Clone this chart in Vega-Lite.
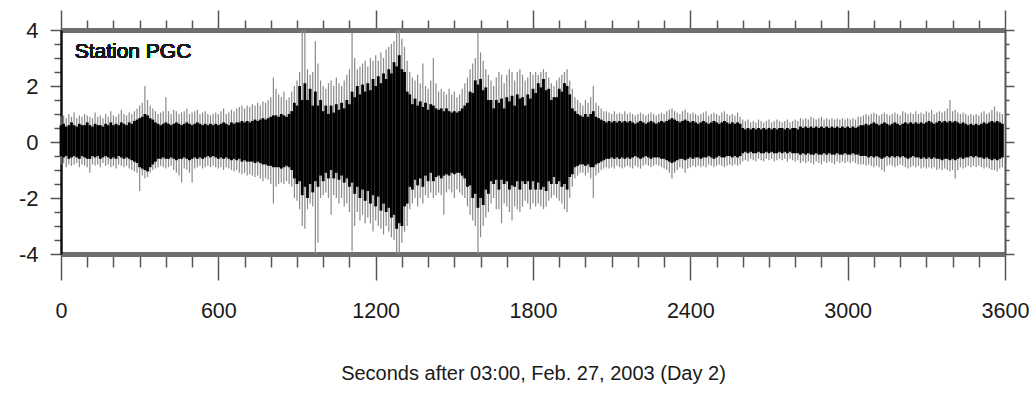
{
"$schema":"https://vega.github.io/schema/vega-lite/v6.json",
"width":944,"height":224,
"autosize":{"type":"none"},
"padding":{"left":61,"top":30,"right":24,"bottom":143},
"background":"white",
"config":{"view":{"stroke":null},"font":"Liberation Sans"},
"data":{"values":[
{"t":0,"h":0.6,"l":-0.5,"p":0.9,"q":-0.8},{"t":10,"h":0.65,"l":-0.55,"p":0.95,"q":-0.75},{"t":20,"h":0.55,"l":-0.5,"p":0.85,"q":-0.9},{"t":30,"h":0.6,"l":-0.6,"p":1.0,"q":-0.8},{"t":40,"h":0.7,"l":-0.55,"p":0.9,"q":-0.85},{"t":50,"h":0.6,"l":-0.5,"p":1.05,"q":-0.8},{"t":60,"h":0.55,"l":-0.55,"p":0.85,"q":-0.75},{"t":70,"h":0.65,"l":-0.6,"p":0.95,"q":-0.9},{"t":80,"h":0.6,"l":-0.5,"p":0.9,"q":-0.8},{"t":90,"h":0.6,"l":-0.55,"p":1.0,"q":-0.85},
{"t":100,"h":0.7,"l":-0.6,"p":0.95,"q":-0.9},{"t":110,"h":0.6,"l":-0.6,"p":0.9,"q":-1.1},{"t":120,"h":0.55,"l":-0.5,"p":0.85,"q":-0.8},{"t":130,"h":0.65,"l":-0.55,"p":1.05,"q":-0.85},{"t":140,"h":0.6,"l":-0.5,"p":0.9,"q":-0.8},{"t":150,"h":0.6,"l":-0.6,"p":0.95,"q":-0.9},{"t":160,"h":0.55,"l":-0.55,"p":0.85,"q":-0.75},{"t":170,"h":0.65,"l":-0.5,"p":1.0,"q":-0.85},{"t":180,"h":0.6,"l":-0.55,"p":0.9,"q":-0.8},{"t":190,"h":0.7,"l":-0.6,"p":1.1,"q":-0.9},
{"t":200,"h":0.6,"l":-0.55,"p":0.95,"q":-0.85},{"t":210,"h":0.65,"l":-0.6,"p":0.9,"q":-0.95},{"t":220,"h":0.6,"l":-0.5,"p":1.0,"q":-0.8},{"t":230,"h":0.7,"l":-0.55,"p":1.15,"q":-0.85},{"t":240,"h":0.65,"l":-0.6,"p":1.0,"q":-0.9},{"t":250,"h":0.6,"l":-0.55,"p":0.95,"q":-0.85},{"t":260,"h":0.7,"l":-0.6,"p":1.05,"q":-0.95},{"t":270,"h":0.65,"l":-0.65,"p":1.0,"q":-1.0},{"t":280,"h":0.75,"l":-0.7,"p":1.1,"q":-1.05},{"t":290,"h":0.8,"l":-0.75,"p":1.2,"q":-1.1},
{"t":300,"h":0.85,"l":-0.9,"p":1.3,"q":-1.75},{"t":310,"h":0.9,"l":-0.95,"p":1.4,"q":-1.2},{"t":320,"h":1.0,"l":-1.0,"p":2.0,"q":-1.3},{"t":330,"h":0.95,"l":-1.05,"p":1.5,"q":-1.25},{"t":340,"h":0.85,"l":-0.9,"p":1.3,"q":-1.1},{"t":350,"h":0.8,"l":-0.8,"p":1.2,"q":-1.0},{"t":360,"h":0.7,"l":-0.7,"p":1.1,"q":-0.95},{"t":370,"h":0.65,"l":-0.6,"p":1.0,"q":-0.9},{"t":380,"h":0.6,"l":-0.6,"p":1.05,"q":-0.85},{"t":390,"h":0.65,"l":-0.55,"p":1.1,"q":-0.9},
{"t":400,"h":0.7,"l":-0.6,"p":1.6,"q":-0.95},{"t":410,"h":0.65,"l":-0.6,"p":1.1,"q":-0.9},{"t":420,"h":0.6,"l":-0.55,"p":1.0,"q":-0.85},{"t":430,"h":0.65,"l":-0.6,"p":1.15,"q":-1.0},{"t":440,"h":0.7,"l":-0.65,"p":1.1,"q":-1.1},{"t":450,"h":0.65,"l":-0.6,"p":1.0,"q":-1.2},{"t":460,"h":0.6,"l":-0.6,"p":1.05,"q":-1.45},{"t":470,"h":0.65,"l":-0.55,"p":1.1,"q":-0.95},{"t":480,"h":0.7,"l":-0.6,"p":1.2,"q":-1.0},{"t":490,"h":0.65,"l":-0.65,"p":1.0,"q":-1.1},
{"t":500,"h":0.6,"l":-0.6,"p":1.05,"q":-1.45},{"t":510,"h":0.65,"l":-0.55,"p":1.1,"q":-0.95},{"t":520,"h":0.7,"l":-0.6,"p":1.15,"q":-0.9},{"t":530,"h":0.65,"l":-0.55,"p":1.0,"q":-0.85},{"t":540,"h":0.6,"l":-0.6,"p":1.05,"q":-0.95},{"t":550,"h":0.65,"l":-0.55,"p":1.1,"q":-0.9},{"t":560,"h":0.6,"l":-0.5,"p":1.0,"q":-0.85},{"t":570,"h":0.65,"l":-0.55,"p":0.95,"q":-0.9},{"t":580,"h":0.6,"l":-0.5,"p":1.0,"q":-0.85},{"t":590,"h":0.65,"l":-0.55,"p":1.05,"q":-0.9},
{"t":600,"h":0.6,"l":-0.6,"p":1.0,"q":-0.95},{"t":610,"h":0.65,"l":-0.55,"p":1.1,"q":-0.9},{"t":620,"h":0.7,"l":-0.6,"p":1.2,"q":-1.0},{"t":630,"h":0.65,"l":-0.55,"p":1.0,"q":-0.9},{"t":640,"h":0.6,"l":-0.6,"p":1.05,"q":-0.95},{"t":650,"h":0.7,"l":-0.65,"p":1.15,"q":-1.0},{"t":660,"h":0.65,"l":-0.6,"p":1.1,"q":-1.05},{"t":670,"h":0.7,"l":-0.65,"p":1.2,"q":-1.0},{"t":680,"h":0.7,"l":-0.6,"p":1.25,"q":-1.1},{"t":690,"h":0.75,"l":-0.7,"p":1.3,"q":-1.15},
{"t":700,"h":0.7,"l":-0.65,"p":1.2,"q":-1.1},{"t":710,"h":0.75,"l":-0.7,"p":1.3,"q":-1.2},{"t":720,"h":0.7,"l":-0.7,"p":1.25,"q":-1.15},{"t":730,"h":0.75,"l":-0.7,"p":1.35,"q":-1.2},{"t":740,"h":0.8,"l":-0.75,"p":1.3,"q":-1.25},{"t":750,"h":0.75,"l":-0.7,"p":1.4,"q":-1.2},{"t":760,"h":0.8,"l":-0.75,"p":1.3,"q":-1.3},{"t":770,"h":0.85,"l":-0.8,"p":1.45,"q":-1.4},{"t":780,"h":0.8,"l":-0.8,"p":1.4,"q":-1.3},{"t":790,"h":0.85,"l":-0.85,"p":1.5,"q":-1.35},
{"t":800,"h":0.9,"l":-0.85,"p":1.6,"q":-1.5},{"t":810,"h":0.95,"l":-0.9,"p":2.3,"q":-2.2},{"t":820,"h":0.95,"l":-0.9,"p":1.9,"q":-1.6},{"t":830,"h":0.9,"l":-0.9,"p":1.7,"q":-1.5},{"t":840,"h":1.0,"l":-0.95,"p":1.6,"q":-1.45},{"t":850,"h":0.95,"l":-0.9,"p":1.8,"q":-1.5},{"t":860,"h":0.9,"l":-0.85,"p":1.5,"q":-1.4},{"t":870,"h":1.0,"l":-0.9,"p":1.6,"q":-1.5},{"t":880,"h":1.1,"l":-1.0,"p":1.8,"q":-1.6},{"t":890,"h":1.4,"l":-1.3,"p":2.0,"q":-2.0},
{"t":900,"h":1.3,"l":-1.5,"p":2.2,"q":-2.1},{"t":910,"h":2.0,"l":-1.4,"p":2.5,"q":-2.4},{"t":920,"h":1.5,"l":-1.9,"p":4.0,"q":-3.0},{"t":930,"h":2.1,"l":-1.6,"p":4.0,"q":-3.1},{"t":940,"h":1.5,"l":-2.0,"p":2.6,"q":-2.4},{"t":950,"h":1.9,"l":-1.5,"p":2.4,"q":-2.2},{"t":960,"h":1.3,"l":-1.8,"p":2.5,"q":-2.3},{"t":970,"h":1.8,"l":-1.4,"p":3.6,"q":-4.0},{"t":980,"h":1.3,"l":-1.6,"p":2.8,"q":-3.6},{"t":990,"h":1.5,"l":-1.2,"p":2.2,"q":-2.0},
{"t":1000,"h":1.1,"l":-1.4,"p":2.0,"q":-1.9},{"t":1010,"h":1.3,"l":-1.1,"p":1.9,"q":-1.8},{"t":1020,"h":1.0,"l":-1.3,"p":2.1,"q":-2.0},{"t":1030,"h":1.3,"l":-1.0,"p":2.2,"q":-2.6},{"t":1040,"h":1.05,"l":-1.3,"p":2.0,"q":-1.9},{"t":1050,"h":1.35,"l":-1.1,"p":2.3,"q":-2.0},{"t":1060,"h":1.15,"l":-1.35,"p":2.1,"q":-2.2},{"t":1070,"h":1.4,"l":-1.2,"p":2.0,"q":-2.0},{"t":1080,"h":1.2,"l":-1.45,"p":2.2,"q":-2.3},{"t":1090,"h":1.5,"l":-1.3,"p":2.4,"q":-2.2},
{"t":1100,"h":1.35,"l":-1.6,"p":2.6,"q":-2.5},{"t":1110,"h":1.8,"l":-1.45,"p":3.9,"q":-3.9},{"t":1120,"h":1.6,"l":-1.85,"p":3.0,"q":-3.0},{"t":1130,"h":2.0,"l":-1.6,"p":2.6,"q":-2.5},{"t":1140,"h":1.7,"l":-2.0,"p":2.7,"q":-2.8},{"t":1150,"h":2.05,"l":-1.7,"p":2.8,"q":-2.6},{"t":1160,"h":1.8,"l":-2.1,"p":2.9,"q":-2.9},{"t":1170,"h":2.1,"l":-1.75,"p":2.7,"q":-2.7},{"t":1180,"h":1.85,"l":-2.2,"p":3.0,"q":-2.9},{"t":1190,"h":2.25,"l":-1.9,"p":2.9,"q":-3.2},
{"t":1200,"h":2.0,"l":-2.3,"p":3.1,"q":-2.8},{"t":1210,"h":2.35,"l":-1.95,"p":2.9,"q":-3.0},{"t":1220,"h":2.1,"l":-2.45,"p":3.2,"q":-3.1},{"t":1230,"h":2.45,"l":-2.2,"p":3.0,"q":-3.3},{"t":1240,"h":2.25,"l":-2.5,"p":3.3,"q":-3.0},{"t":1250,"h":2.6,"l":-2.35,"p":3.4,"q":-3.2},{"t":1260,"h":2.45,"l":-2.7,"p":3.5,"q":-3.4},{"t":1270,"h":2.85,"l":-2.6,"p":3.6,"q":-3.5},{"t":1280,"h":2.7,"l":-3.1,"p":4.0,"q":-4.0},{"t":1290,"h":3.1,"l":-2.9,"p":4.0,"q":-4.0},
{"t":1300,"h":2.6,"l":-3.0,"p":3.7,"q":-3.6},{"t":1310,"h":2.5,"l":-2.3,"p":3.4,"q":-3.2},{"t":1320,"h":1.8,"l":-2.2,"p":2.9,"q":-3.0},{"t":1330,"h":1.7,"l":-1.6,"p":2.5,"q":-2.4},{"t":1340,"h":1.35,"l":-1.7,"p":2.3,"q":-2.2},{"t":1350,"h":1.55,"l":-1.35,"p":2.2,"q":-2.0},{"t":1360,"h":1.3,"l":-1.55,"p":2.4,"q":-2.3},{"t":1370,"h":1.45,"l":-1.3,"p":2.1,"q":-2.0},{"t":1380,"h":1.25,"l":-1.6,"p":2.8,"q":-2.2},{"t":1390,"h":1.4,"l":-1.2,"p":2.0,"q":-1.9},
{"t":1400,"h":1.15,"l":-1.4,"p":1.9,"q":-2.0},{"t":1410,"h":1.35,"l":-1.1,"p":2.2,"q":-1.8},{"t":1420,"h":1.3,"l":-1.4,"p":3.0,"q":-2.0},{"t":1430,"h":1.2,"l":-1.25,"p":2.1,"q":-1.9},{"t":1440,"h":1.15,"l":-1.2,"p":1.8,"q":-1.8},{"t":1450,"h":1.2,"l":-1.3,"p":1.9,"q":-1.9},{"t":1460,"h":1.1,"l":-1.2,"p":1.8,"q":-2.6},{"t":1470,"h":1.2,"l":-1.15,"p":1.7,"q":-1.8},{"t":1480,"h":1.1,"l":-1.2,"p":1.9,"q":-1.7},{"t":1490,"h":1.05,"l":-1.1,"p":1.7,"q":-1.8},
{"t":1500,"h":1.1,"l":-1.15,"p":1.8,"q":-2.0},{"t":1510,"h":1.05,"l":-1.1,"p":1.6,"q":-1.7},{"t":1520,"h":1.1,"l":-1.1,"p":1.7,"q":-1.8},{"t":1530,"h":1.2,"l":-1.2,"p":1.9,"q":-1.9},{"t":1540,"h":1.3,"l":-1.3,"p":2.1,"q":-2.0},{"t":1550,"h":1.4,"l":-1.6,"p":2.3,"q":-2.3},{"t":1560,"h":1.8,"l":-1.55,"p":2.6,"q":-2.6},{"t":1570,"h":1.75,"l":-2.0,"p":2.8,"q":-2.8},{"t":1580,"h":2.2,"l":-1.85,"p":3.0,"q":-3.0},{"t":1590,"h":2.05,"l":-2.35,"p":3.9,"q":-4.0},
{"t":1600,"h":2.25,"l":-2.0,"p":3.2,"q":-3.4},{"t":1610,"h":1.85,"l":-2.25,"p":2.9,"q":-3.0},{"t":1620,"h":1.95,"l":-1.7,"p":2.6,"q":-2.7},{"t":1630,"h":1.5,"l":-1.85,"p":2.4,"q":-2.5},{"t":1640,"h":1.5,"l":-1.4,"p":2.2,"q":-2.2},{"t":1650,"h":1.2,"l":-1.5,"p":2.0,"q":-2.0},{"t":1660,"h":1.5,"l":-1.35,"p":2.3,"q":-2.4},{"t":1670,"h":1.4,"l":-1.7,"p":2.5,"q":-2.4},{"t":1680,"h":1.55,"l":-1.35,"p":2.4,"q":-2.9},{"t":1690,"h":1.2,"l":-1.5,"p":2.1,"q":-2.2},
{"t":1700,"h":1.6,"l":-1.4,"p":2.4,"q":-2.3},{"t":1710,"h":1.45,"l":-1.7,"p":2.6,"q":-2.5},{"t":1720,"h":1.65,"l":-1.55,"p":2.5,"q":-2.8},{"t":1730,"h":1.3,"l":-1.6,"p":2.2,"q":-2.3},{"t":1740,"h":1.7,"l":-1.4,"p":2.5,"q":-2.4},{"t":1750,"h":1.55,"l":-1.7,"p":2.6,"q":-2.5},{"t":1760,"h":1.6,"l":-1.4,"p":2.4,"q":-2.3},{"t":1770,"h":1.3,"l":-1.5,"p":2.2,"q":-2.1},{"t":1780,"h":1.7,"l":-1.4,"p":2.3,"q":-2.2},{"t":1790,"h":1.55,"l":-1.7,"p":2.5,"q":-2.4},
{"t":1800,"h":1.9,"l":-1.4,"p":2.4,"q":-2.2},{"t":1810,"h":1.75,"l":-1.7,"p":2.5,"q":-2.3},{"t":1820,"h":2.1,"l":-1.45,"p":2.4,"q":-2.2},{"t":1830,"h":1.95,"l":-1.7,"p":2.5,"q":-2.3},{"t":1840,"h":2.25,"l":-1.6,"p":2.6,"q":-2.4},{"t":1850,"h":1.85,"l":-1.75,"p":2.5,"q":-2.3},{"t":1860,"h":1.9,"l":-1.4,"p":2.3,"q":-2.1},{"t":1870,"h":1.5,"l":-1.5,"p":2.1,"q":-2.0},{"t":1880,"h":1.6,"l":-1.25,"p":2.0,"q":-1.9},{"t":1890,"h":1.6,"l":-1.5,"p":2.2,"q":-2.0},
{"t":1900,"h":1.9,"l":-1.4,"p":2.3,"q":-2.1},{"t":1910,"h":1.8,"l":-1.6,"p":2.4,"q":-2.2},{"t":1920,"h":2.1,"l":-1.5,"p":2.5,"q":-2.4},{"t":1930,"h":2.0,"l":-1.7,"p":2.6,"q":-2.5},{"t":1940,"h":1.7,"l":-1.25,"p":2.2,"q":-2.0},{"t":1950,"h":1.2,"l":-1.15,"p":1.9,"q":-1.6},{"t":1960,"h":1.1,"l":-0.9,"p":1.6,"q":-1.3},{"t":1970,"h":1.0,"l":-0.85,"p":1.5,"q":-1.2},{"t":1980,"h":0.95,"l":-0.8,"p":1.4,"q":-1.1},{"t":1990,"h":0.9,"l":-0.8,"p":1.3,"q":-1.1},
{"t":2000,"h":1.0,"l":-0.85,"p":1.5,"q":-1.2},{"t":2010,"h":0.9,"l":-0.8,"p":1.4,"q":-1.1},{"t":2020,"h":1.0,"l":-0.9,"p":1.6,"q":-1.3},{"t":2030,"h":1.1,"l":-0.9,"p":2.0,"q":-2.0},{"t":2040,"h":0.9,"l":-0.8,"p":1.4,"q":-1.2},{"t":2050,"h":0.85,"l":-0.75,"p":1.3,"q":-1.1},{"t":2060,"h":0.8,"l":-0.7,"p":1.2,"q":-1.0},{"t":2070,"h":0.75,"l":-0.65,"p":1.1,"q":-0.95},{"t":2080,"h":0.7,"l":-0.6,"p":1.1,"q":-0.9},{"t":2090,"h":0.75,"l":-0.6,"p":1.05,"q":-0.95},
{"t":2100,"h":0.7,"l":-0.55,"p":1.0,"q":-0.9},{"t":2110,"h":0.75,"l":-0.6,"p":1.1,"q":-0.95},{"t":2120,"h":0.7,"l":-0.55,"p":1.0,"q":-0.85},{"t":2130,"h":0.75,"l":-0.6,"p":1.05,"q":-0.9},{"t":2140,"h":0.7,"l":-0.55,"p":1.0,"q":-0.95},{"t":2150,"h":0.75,"l":-0.6,"p":1.1,"q":-0.9},{"t":2160,"h":0.7,"l":-0.55,"p":1.0,"q":-0.85},{"t":2170,"h":0.75,"l":-0.6,"p":1.05,"q":-0.9},{"t":2180,"h":0.7,"l":-0.55,"p":1.0,"q":-0.95},{"t":2190,"h":0.65,"l":-0.5,"p":0.95,"q":-0.85},
{"t":2200,"h":0.7,"l":-0.55,"p":1.0,"q":-0.9},{"t":2210,"h":0.75,"l":-0.6,"p":1.05,"q":-0.95},{"t":2220,"h":0.7,"l":-0.55,"p":1.0,"q":-0.85},{"t":2230,"h":0.65,"l":-0.5,"p":0.95,"q":-0.8},{"t":2240,"h":0.7,"l":-0.55,"p":1.0,"q":-0.85},{"t":2250,"h":0.75,"l":-0.6,"p":1.05,"q":-0.9},{"t":2260,"h":0.7,"l":-0.55,"p":1.0,"q":-0.85},{"t":2270,"h":0.65,"l":-0.55,"p":0.95,"q":-0.8},{"t":2280,"h":0.7,"l":-0.55,"p":1.0,"q":-0.85},{"t":2290,"h":0.75,"l":-0.6,"p":1.05,"q":-0.9},
{"t":2300,"h":0.7,"l":-0.6,"p":1.0,"q":-0.95},{"t":2310,"h":0.75,"l":-0.65,"p":1.1,"q":-1.0},{"t":2320,"h":0.8,"l":-0.7,"p":1.15,"q":-1.1},{"t":2330,"h":0.85,"l":-0.75,"p":1.2,"q":-1.3},{"t":2340,"h":0.8,"l":-0.7,"p":1.1,"q":-1.1},{"t":2350,"h":0.75,"l":-0.65,"p":1.05,"q":-1.0},{"t":2360,"h":0.7,"l":-0.6,"p":1.0,"q":-0.9},{"t":2370,"h":0.75,"l":-0.6,"p":1.1,"q":-0.95},{"t":2380,"h":0.8,"l":-0.65,"p":1.15,"q":-1.1},{"t":2390,"h":0.75,"l":-0.6,"p":1.05,"q":-0.95},
{"t":2400,"h":0.7,"l":-0.55,"p":1.0,"q":-0.9},{"t":2410,"h":0.75,"l":-0.6,"p":1.05,"q":-0.85},{"t":2420,"h":0.7,"l":-0.55,"p":1.0,"q":-0.9},{"t":2430,"h":0.65,"l":-0.55,"p":0.95,"q":-0.85},{"t":2440,"h":0.7,"l":-0.6,"p":1.0,"q":-0.9},{"t":2450,"h":0.75,"l":-0.55,"p":1.05,"q":-0.85},{"t":2460,"h":0.7,"l":-0.55,"p":1.1,"q":-0.9},{"t":2470,"h":0.65,"l":-0.5,"p":0.95,"q":-0.8},{"t":2480,"h":0.7,"l":-0.55,"p":1.0,"q":-0.85},{"t":2490,"h":0.75,"l":-0.6,"p":1.05,"q":-0.9},
{"t":2500,"h":0.7,"l":-0.55,"p":1.0,"q":-0.85},{"t":2510,"h":0.65,"l":-0.5,"p":0.95,"q":-0.8},{"t":2520,"h":0.7,"l":-0.55,"p":1.05,"q":-0.85},{"t":2530,"h":0.75,"l":-0.55,"p":1.1,"q":-0.9},{"t":2540,"h":0.7,"l":-0.5,"p":1.0,"q":-0.85},{"t":2550,"h":0.65,"l":-0.5,"p":0.95,"q":-0.8},{"t":2560,"h":0.7,"l":-0.55,"p":1.0,"q":-0.85},{"t":2570,"h":0.65,"l":-0.5,"p":0.95,"q":-0.8},{"t":2580,"h":0.7,"l":-0.55,"p":1.05,"q":-0.85},{"t":2590,"h":0.65,"l":-0.5,"p":0.9,"q":-0.8},
{"t":2600,"h":0.5,"l":-0.4,"p":0.8,"q":-0.7},{"t":2610,"h":0.45,"l":-0.35,"p":0.75,"q":-0.65},{"t":2620,"h":0.5,"l":-0.4,"p":0.8,"q":-0.7},{"t":2630,"h":0.45,"l":-0.35,"p":0.7,"q":-0.6},{"t":2640,"h":0.5,"l":-0.4,"p":0.75,"q":-0.65},{"t":2650,"h":0.45,"l":-0.4,"p":0.7,"q":-0.7},{"t":2660,"h":0.5,"l":-0.35,"p":0.8,"q":-0.6},{"t":2670,"h":0.45,"l":-0.4,"p":0.75,"q":-0.65},{"t":2680,"h":0.5,"l":-0.4,"p":0.7,"q":-0.7},{"t":2690,"h":0.45,"l":-0.35,"p":0.75,"q":-0.6},
{"t":2700,"h":0.5,"l":-0.4,"p":0.8,"q":-0.65},{"t":2710,"h":0.45,"l":-0.35,"p":0.7,"q":-0.6},{"t":2720,"h":0.5,"l":-0.4,"p":0.75,"q":-0.7},{"t":2730,"h":0.45,"l":-0.4,"p":0.8,"q":-0.65},{"t":2740,"h":0.5,"l":-0.35,"p":0.75,"q":-0.6},{"t":2750,"h":0.5,"l":-0.4,"p":0.7,"q":-0.65},{"t":2760,"h":0.45,"l":-0.35,"p":0.75,"q":-0.6},{"t":2770,"h":0.5,"l":-0.4,"p":0.8,"q":-0.7},{"t":2780,"h":0.45,"l":-0.35,"p":0.7,"q":-0.6},{"t":2790,"h":0.5,"l":-0.4,"p":0.75,"q":-0.65},
{"t":2800,"h":0.5,"l":-0.4,"p":0.8,"q":-0.7},{"t":2810,"h":0.45,"l":-0.4,"p":0.75,"q":-0.65},{"t":2820,"h":0.55,"l":-0.45,"p":0.85,"q":-0.75},{"t":2830,"h":0.5,"l":-0.4,"p":0.8,"q":-0.7},{"t":2840,"h":0.55,"l":-0.45,"p":0.85,"q":-0.75},{"t":2850,"h":0.5,"l":-0.4,"p":0.8,"q":-0.7},{"t":2860,"h":0.55,"l":-0.45,"p":0.9,"q":-0.75},{"t":2870,"h":0.5,"l":-0.45,"p":0.85,"q":-0.8},{"t":2880,"h":0.55,"l":-0.4,"p":0.8,"q":-0.7},{"t":2890,"h":0.5,"l":-0.45,"p":0.85,"q":-0.75},
{"t":2900,"h":0.55,"l":-0.45,"p":0.9,"q":-0.8},{"t":2910,"h":0.5,"l":-0.4,"p":0.8,"q":-0.7},{"t":2920,"h":0.55,"l":-0.45,"p":0.85,"q":-0.75},{"t":2930,"h":0.5,"l":-0.4,"p":0.8,"q":-0.7},{"t":2940,"h":0.55,"l":-0.45,"p":0.85,"q":-0.75},{"t":2950,"h":0.5,"l":-0.45,"p":0.8,"q":-0.8},{"t":2960,"h":0.55,"l":-0.4,"p":0.85,"q":-0.7},{"t":2970,"h":0.5,"l":-0.45,"p":0.8,"q":-0.75},{"t":2980,"h":0.55,"l":-0.45,"p":0.85,"q":-0.7},{"t":2990,"h":0.5,"l":-0.4,"p":0.8,"q":-0.75},
{"t":3000,"h":0.55,"l":-0.45,"p":0.85,"q":-0.7},{"t":3010,"h":0.5,"l":-0.45,"p":0.8,"q":-0.75},{"t":3020,"h":0.55,"l":-0.4,"p":0.85,"q":-0.7},{"t":3030,"h":0.5,"l":-0.45,"p":0.8,"q":-0.75},{"t":3040,"h":0.55,"l":-0.45,"p":0.9,"q":-0.8},{"t":3050,"h":0.6,"l":-0.5,"p":0.9,"q":-0.8},{"t":3060,"h":0.6,"l":-0.5,"p":0.95,"q":-0.8},{"t":3070,"h":0.65,"l":-0.5,"p":1.0,"q":-0.85},{"t":3080,"h":0.6,"l":-0.55,"p":0.95,"q":-0.8},{"t":3090,"h":0.65,"l":-0.5,"p":1.0,"q":-0.85},
{"t":3100,"h":0.7,"l":-0.55,"p":1.05,"q":-0.9},{"t":3110,"h":0.65,"l":-0.5,"p":1.0,"q":-0.85},{"t":3120,"h":0.6,"l":-0.55,"p":0.95,"q":-0.9},{"t":3130,"h":0.65,"l":-0.6,"p":1.0,"q":-1.0},{"t":3140,"h":0.7,"l":-0.55,"p":1.05,"q":-1.05},{"t":3150,"h":0.65,"l":-0.5,"p":1.0,"q":-0.85},{"t":3160,"h":0.6,"l":-0.55,"p":0.95,"q":-0.8},{"t":3170,"h":0.65,"l":-0.5,"p":1.0,"q":-0.85},{"t":3180,"h":0.7,"l":-0.55,"p":1.05,"q":-0.9},{"t":3190,"h":0.65,"l":-0.5,"p":1.0,"q":-0.85},
{"t":3200,"h":0.6,"l":-0.55,"p":0.95,"q":-0.8},{"t":3210,"h":0.65,"l":-0.5,"p":1.1,"q":-0.85},{"t":3220,"h":0.7,"l":-0.55,"p":1.05,"q":-0.9},{"t":3230,"h":0.65,"l":-0.6,"p":1.0,"q":-0.95},{"t":3240,"h":0.7,"l":-0.55,"p":1.05,"q":-0.9},{"t":3250,"h":0.65,"l":-0.5,"p":1.0,"q":-0.85},{"t":3260,"h":0.7,"l":-0.55,"p":1.1,"q":-0.9},{"t":3270,"h":0.65,"l":-0.55,"p":1.0,"q":-0.85},{"t":3280,"h":0.7,"l":-0.6,"p":1.05,"q":-0.95},{"t":3290,"h":0.65,"l":-0.55,"p":1.0,"q":-0.9},
{"t":3300,"h":0.7,"l":-0.6,"p":1.1,"q":-0.95},{"t":3310,"h":0.75,"l":-0.55,"p":1.05,"q":-0.9},{"t":3320,"h":0.7,"l":-0.6,"p":1.15,"q":-0.95},{"t":3330,"h":0.65,"l":-0.55,"p":1.0,"q":-0.9},{"t":3340,"h":0.7,"l":-0.6,"p":1.05,"q":-1.0},{"t":3350,"h":0.75,"l":-0.6,"p":1.1,"q":-0.95},{"t":3360,"h":0.7,"l":-0.65,"p":1.05,"q":-1.0},{"t":3370,"h":0.75,"l":-0.6,"p":1.1,"q":-0.95},{"t":3380,"h":0.7,"l":-0.6,"p":1.2,"q":-1.0},{"t":3390,"h":0.75,"l":-0.65,"p":1.5,"q":-1.05},
{"t":3400,"h":0.7,"l":-0.6,"p":1.1,"q":-1.0},{"t":3410,"h":0.75,"l":-0.65,"p":1.15,"q":-1.3},{"t":3420,"h":0.7,"l":-0.6,"p":1.05,"q":-1.0},{"t":3430,"h":0.65,"l":-0.55,"p":1.0,"q":-0.9},{"t":3440,"h":0.7,"l":-0.6,"p":1.05,"q":-0.95},{"t":3450,"h":0.65,"l":-0.55,"p":1.0,"q":-0.9},{"t":3460,"h":0.6,"l":-0.55,"p":0.95,"q":-0.85},{"t":3470,"h":0.65,"l":-0.5,"p":1.0,"q":-0.9},{"t":3480,"h":0.6,"l":-0.55,"p":0.95,"q":-0.85},{"t":3490,"h":0.65,"l":-0.5,"p":1.0,"q":-0.9},
{"t":3500,"h":0.6,"l":-0.55,"p":0.95,"q":-0.85},{"t":3510,"h":0.65,"l":-0.55,"p":1.05,"q":-0.9},{"t":3520,"h":0.7,"l":-0.6,"p":1.1,"q":-0.95},{"t":3530,"h":0.65,"l":-0.55,"p":1.0,"q":-0.9},{"t":3540,"h":0.7,"l":-0.6,"p":1.05,"q":-0.95},{"t":3550,"h":0.75,"l":-0.65,"p":1.15,"q":-1.0},{"t":3560,"h":0.7,"l":-0.6,"p":1.27,"q":-1.0},{"t":3570,"h":0.75,"l":-0.65,"p":1.1,"q":-1.05},{"t":3580,"h":0.7,"l":-0.6,"p":1.05,"q":-0.95},{"t":3590,"h":0.65,"l":-0.55,"p":1.0,"q":-0.9}
]},
"resolve":{"axis":{"x":"independent","y":"independent"}},
"layer":[
{"mark":{"type":"rule","color":"#8a8a8a","strokeWidth":1.2},
 "encoding":{
  "x":{"field":"t","type":"quantitative","scale":{"domain":[0,3600],"nice":false,"zero":false},
   "axis":{"orient":"bottom","values":[0,100,200,300,400,500,600,700,800,900,1000,1100,1200,1300,1400,1500,1600,1700,1800,1900,2000,2100,2200,2300,2400,2500,2600,2700,2800,2900,3000,3100,3200,3300,3400,3500,3600],
    "labelExpr":"datum.value % 600 === 0 ? '' + datum.value : ''",
    "tickSize":{"condition":{"test":"datum.value % 600 === 0","value":26},"value":13},
    "tickColor":"#555","tickWidth":1.5,"domainColor":"#6e6e6e","domainWidth":5,
    "labelFontSize":21.5,"labelColor":"#1a1a1a","labelPadding":20,"labelFlush":false,"labelOverlap":false,
    "title":"Seconds after 03:00, Feb. 27, 2003 (Day 2)","titleFontSize":20,"titleFontWeight":"normal","titleColor":"#1a1a1a","titlePadding":42,"grid":false}},
  "y":{"field":"p","type":"quantitative","scale":{"domain":[-4,4],"nice":false,"zero":false},
   "axis":{"orient":"left","values":[-4,-3.5,-3,-2.5,-2,-1.5,-1,-0.5,0,0.5,1,1.5,2,2.5,3,3.5,4],
    "labelExpr":"datum.value % 2 === 0 ? '' + datum.value : ''",
    "tickSize":{"condition":{"test":"datum.value % 2 === 0","value":11},"value":7},
    "tickColor":"#555","tickWidth":1.5,"domainColor":"#111","domainWidth":2.5,
    "labelFontSize":22,"labelColor":"#1a1a1a","labelPadding":12,"labelFlush":false,"labelOverlap":false,"title":null,"grid":false}},
  "y2":{"field":"q"}}},
{"mark":{"type":"rule","color":"#000","strokeWidth":2.8},
 "encoding":{
  "x":{"field":"t","type":"quantitative",
   "axis":{"orient":"top","values":[0,100,200,300,400,500,600,700,800,900,1000,1100,1200,1300,1400,1500,1600,1700,1800,1900,2000,2100,2200,2300,2400,2500,2600,2700,2800,2900,3000,3100,3200,3300,3400,3500,3600],
    "labels":false,"tickSize":{"condition":{"test":"datum.value % 600 === 0","value":20},"value":10},
    "tickColor":"#555","tickWidth":1.5,"domainColor":"#6e6e6e","domainWidth":5,"title":null,"grid":false}},
  "y":{"field":"h","type":"quantitative",
   "axis":{"orient":"right","values":[-4,-3.5,-3,-2.5,-2,-1.5,-1,-0.5,0,0.5,1,1.5,2,2.5,3,3.5,4],
    "labels":false,"tickSize":{"condition":{"test":"datum.value % 2 === 0","value":9},"value":4},
    "tickColor":"#555","tickWidth":1.5,"domainColor":"#555","domainWidth":2,"title":null,"grid":false}},
  "y2":{"field":"l"}}},
{"mark":{"type":"text","align":"left","baseline":"middle","fontSize":21,"color":"#1a1a1a"},
 "encoding":{
  "x":{"datum":52,"type":"quantitative","axis":null},
  "y":{"datum":3.2,"type":"quantitative","axis":null},
  "text":{"value":"Station PGC"}}}
]
}
